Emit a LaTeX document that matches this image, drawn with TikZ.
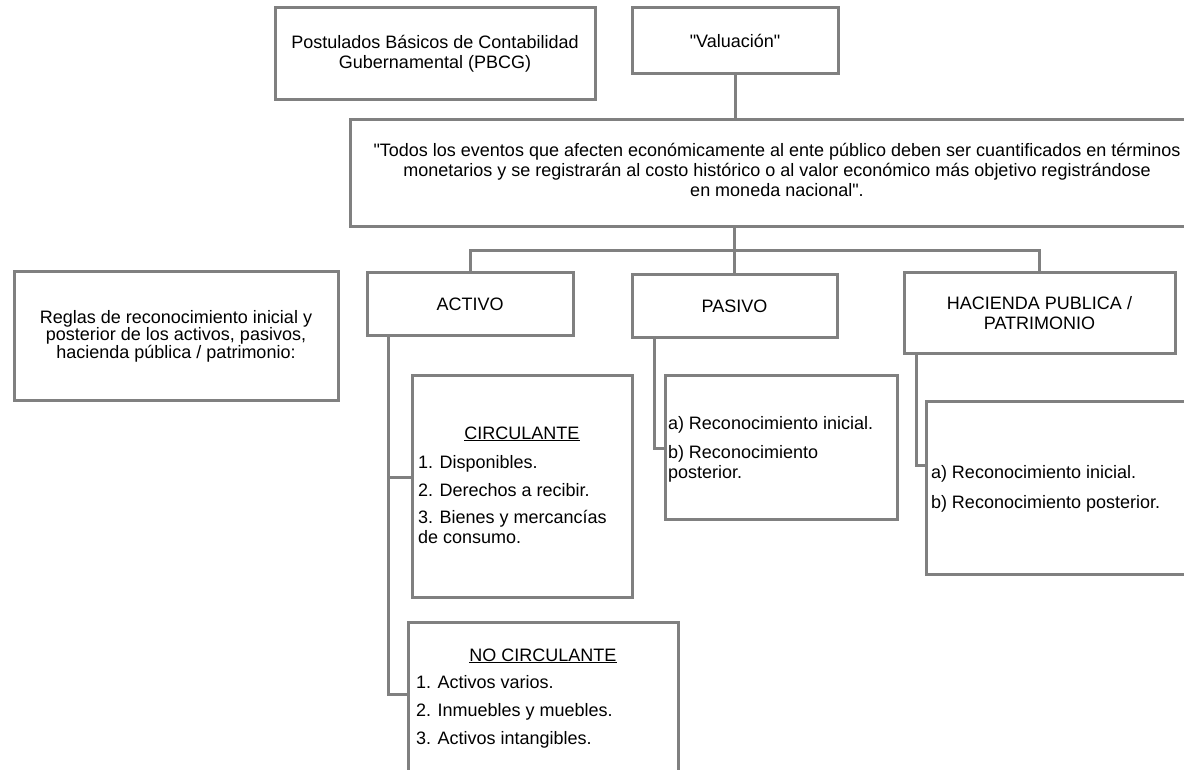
\documentclass[tikz,border=0pt]{standalone}
\usepackage{fontspec}
\setmainfont{Liberation Sans}
\newfontfamily\plainqf{Liberation Sans}
\newcommand\dq{{\plainqf"}}
\definecolor{lgray}{RGB}{128,128,128}
\newcommand\fs{\fontsize{18}{20}\selectfont}
\newcommand\normalspaces{\spaceskip=0pt\relax\xspaceskip=0pt\relax}
\tikzset{
  box/.style={draw=lgray,line width=3pt,fill=white,inner sep=0pt,outer sep=0pt,
              anchor=north west,align=center,font=\fs},
  conn/.style={draw=lgray,line width=3pt},
  txt/.style={inner sep=0pt,outer sep=0pt,anchor=base west,align=flush left,
              font=\fs,execute at begin node=\normalspaces}
}
\begin{document}
\begin{tikzpicture}[x=1pt,y=-1pt]
\useasboundingbox (0,0) rectangle (1184,770);
\clip (0,0) rectangle (1184,770);
\fill[white] (0,0) rectangle (1184,770);

% top boxes
\node[box,minimum width=320,minimum height=92] (pbcg) at (275,8)
  {Postulados Básicos de Contabilidad\\Gubernamental (PBCG)};
\node[box,minimum width=206,minimum height=66] (val) at (632,8) {\dq Valuación\dq};
\node[box,minimum width=854,minimum height=107] (big) at (350,120) {};
\node[inner sep=0pt,align=center,font=\fs] (bigtxt) at (777,170)
  {\dq Todos los eventos que afecten económicamente al ente público deben ser cuantificados en términos\\
   monetarios y se registrarán al costo histórico o al valor económico más objetivo registrándose\\
   en moneda nacional\dq.};

% left note
\node[box,minimum width=324,minimum height=128,font=\fontsize{18}{17.5}\selectfont] (reglas) at (14,272)
  {Reglas de reconocimiento inicial y\\posterior de los activos, pasivos,\\hacienda pública / patrimonio:};

% second level
\node[box,minimum width=206,minimum height=62] (activo) at (367,273) {ACTIVO};
\node[box,minimum width=205,minimum height=62] (pasivo) at (632,275) {PASIVO};
\node[box,minimum width=271,minimum height=80] (hacienda) at (904,273) {HACIENDA PUBLICA /\\PATRIMONIO};

% third level boxes
\node[box,minimum width=220,minimum height=222] (circ) at (412,375) {};
\node[box,minimum width=270,minimum height=180] (nocirc) at (408,622) {};
\node[box,minimum width=232,minimum height=144] (pasub) at (665,375) {};
\node[box,minimum width=280,minimum height=173] (hasub) at (926,401) {};

% texts of third level
\node[txt,text width=208] (circtxt) at (418,439)
  {\makebox[\linewidth]{\underline{CIRCULANTE}}\\[9pt]
   1. Disponibles.\\[8pt]
   2. Derechos a recibir.\\[7pt]
   3. Bienes y mercancías\\
   de consumo.};
\node[txt,text width=254] (nocirctxt) at (416,661)
  {\makebox[\linewidth]{\underline{NO CIRCULANTE}}\\[7pt]
   1. Activos varios.\\[8pt]
   2. Inmuebles y muebles.\\[8pt]
   3. Activos intangibles.};
\node[txt,text width=226] (pasubtxt) at (668,429)
  {a) Reconocimiento inicial.\\[9pt]
   b) Reconocimiento\\
   posterior.};
\node[txt,text width=270] (hasubtxt) at (931,478)
  {a) Reconocimiento inicial.\\[10pt]
   b) Reconocimiento posterior.};

% connectors
\coordinate (vx) at (735,0);
\coordinate (bus) at (0,251);
\draw[conn] (val.south -| vx) -- (big.north -| vx);
\draw[conn] (big.south -| pasivo.north) -- (pasivo.north);
\draw[conn] (activo.north) -- (activo.north |- bus) -- (hacienda.north |- bus) -- (hacienda.north);

\coordinate (ax) at (388,0);
\draw[conn] (activo.south -| ax) -- (ax |- 0,694) -- (nocirc.west |- 0,694);
\draw[conn] (ax |- 0,477) -- (circ.west |- 0,477);

\coordinate (px) at (654,0);
\draw[conn] (pasivo.south -| px) -- (px |- 0,448) -- (pasub.west |- 0,448);

\coordinate (hx) at (916,0);
\draw[conn] (hacienda.south -| hx) -- (hx |- 0,465) -- (hasub.west |- 0,465);
\end{tikzpicture}
\end{document}
